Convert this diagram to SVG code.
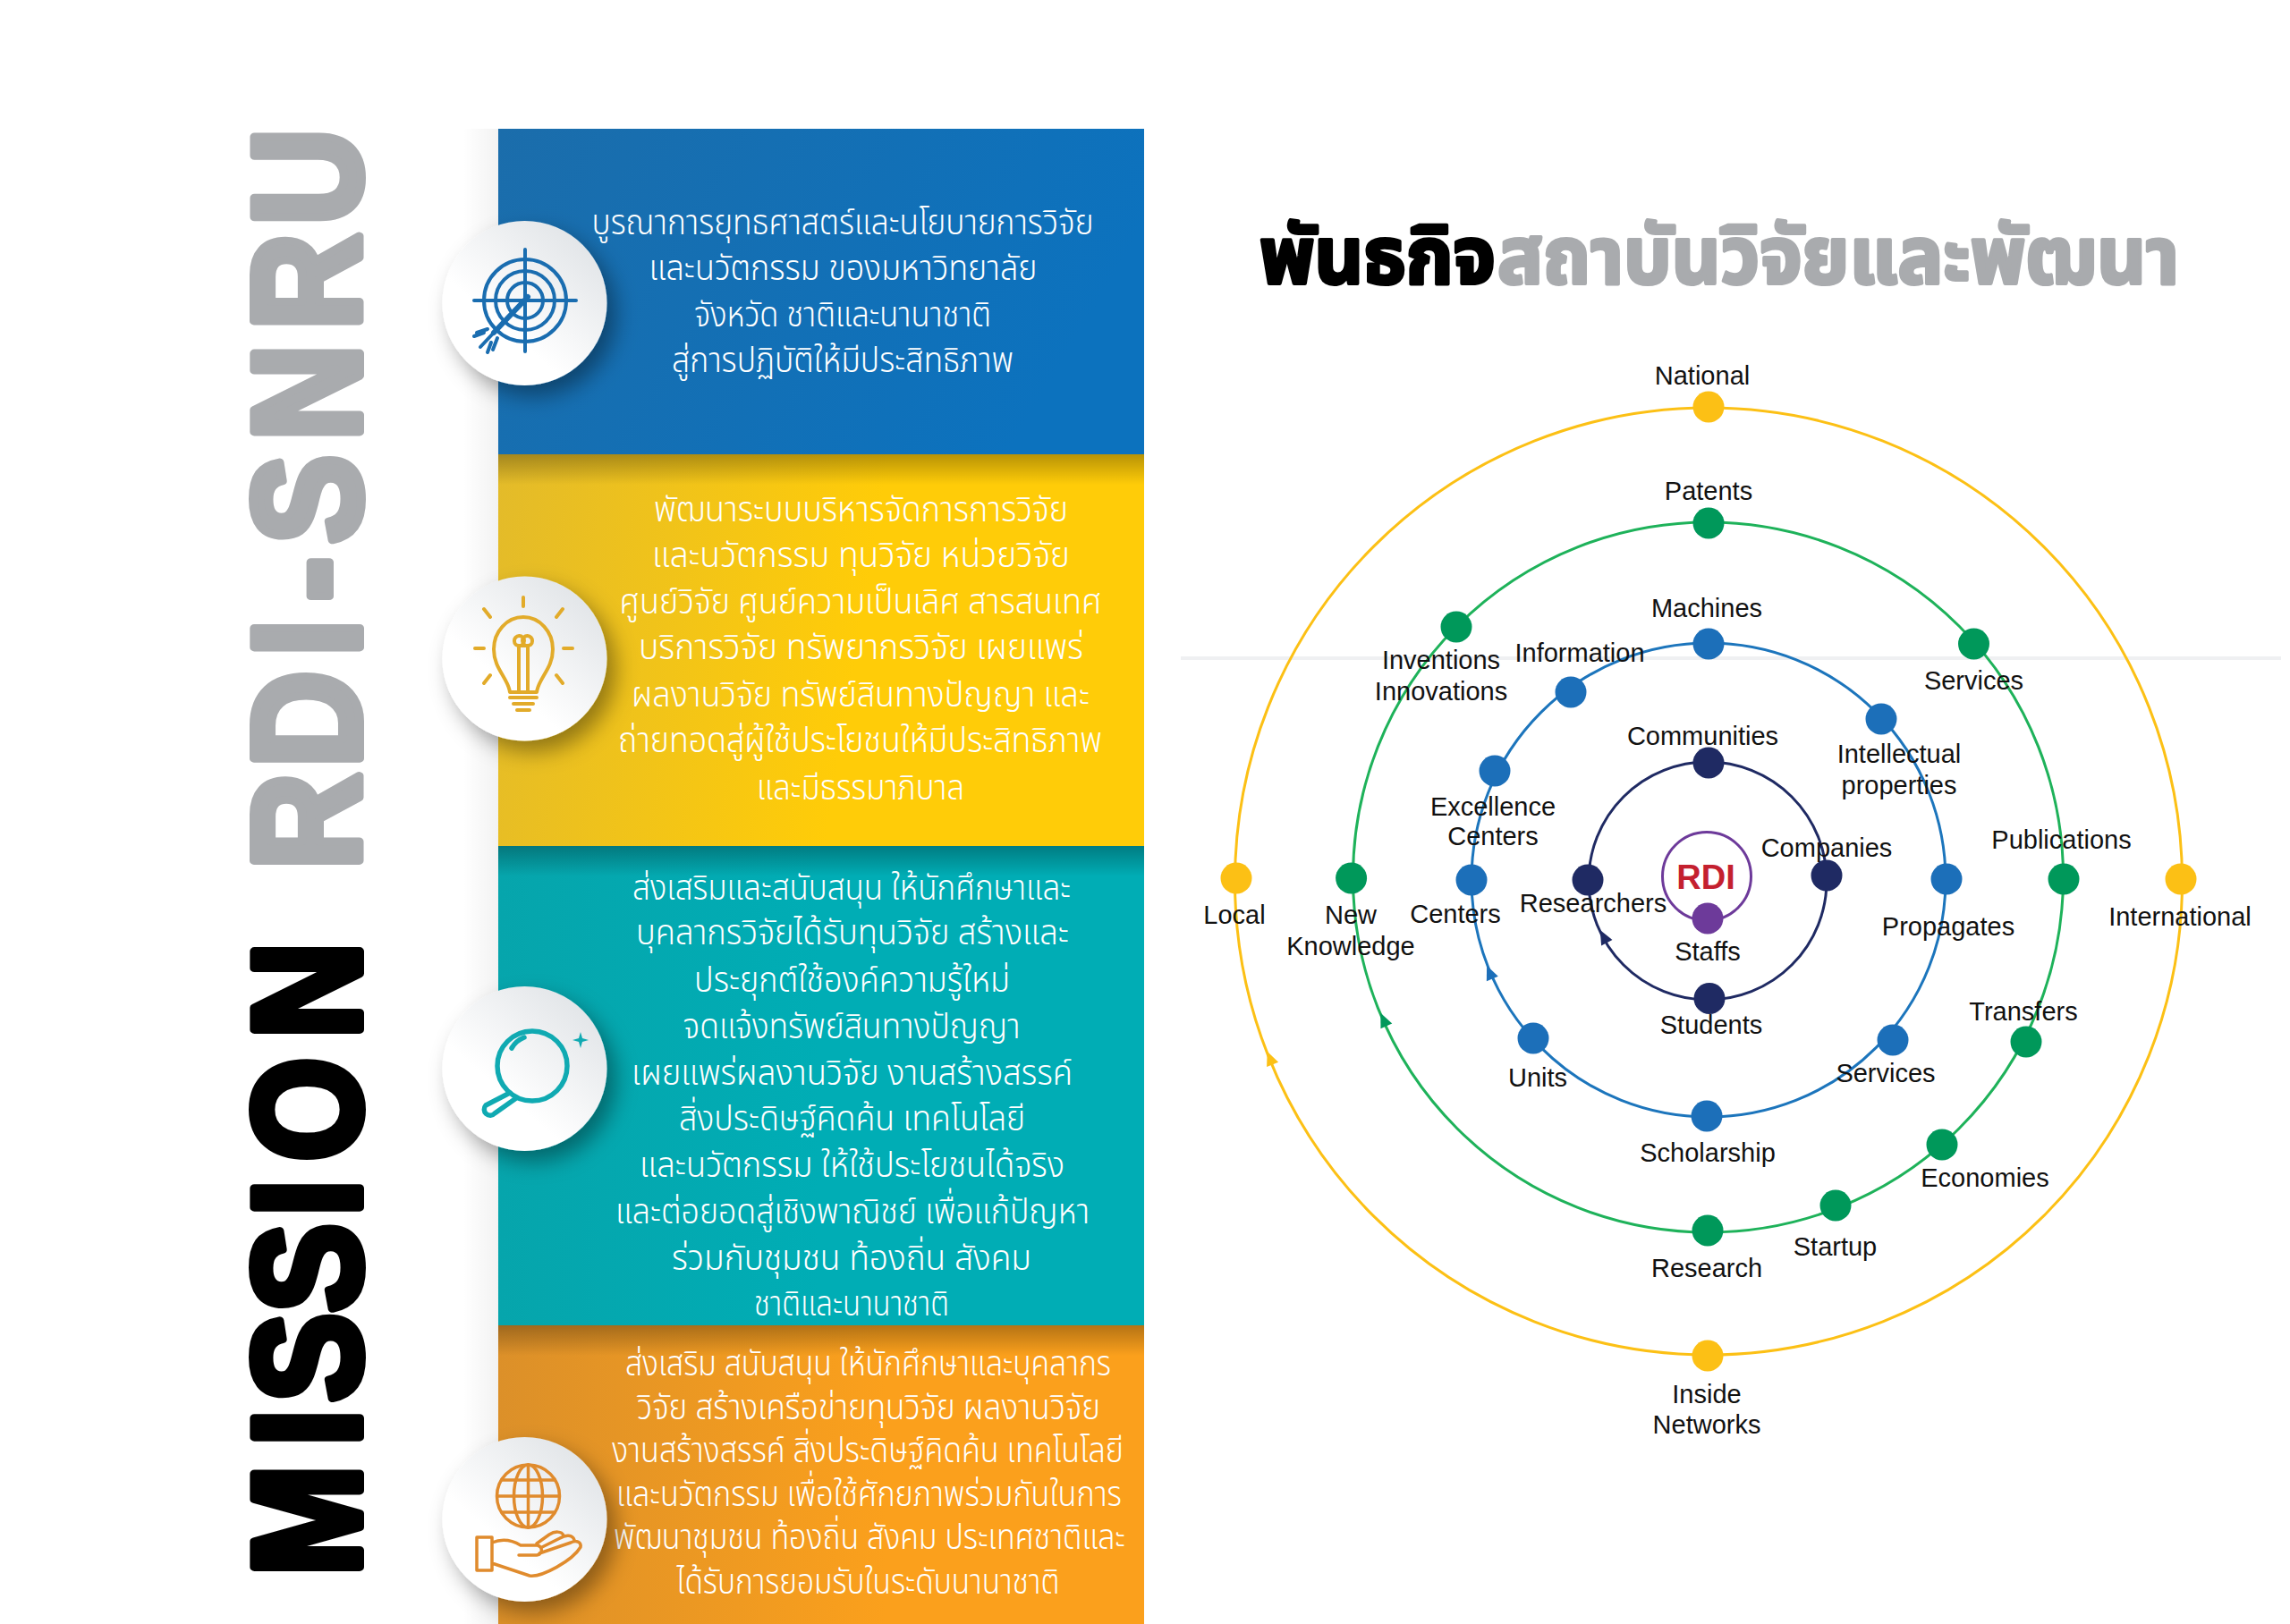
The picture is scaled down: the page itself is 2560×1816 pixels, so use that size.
<svg xmlns="http://www.w3.org/2000/svg" xmlns:xlink="http://www.w3.org/1999/xlink" width="2560" height="1816" viewBox="0 0 2560 1816">
<defs>
<linearGradient id="gb" x1="0" y1="0" x2="1" y2="0.3"><stop offset="0" stop-color="#1b6dab"/><stop offset="1" stop-color="#0c72be"/></linearGradient>
<linearGradient id="gy" x1="0" y1="0" x2="1" y2="0.1"><stop offset="0" stop-color="#e3bb2a"/><stop offset="0.6" stop-color="#ffcc08"/></linearGradient>
<linearGradient id="gt" x1="0" y1="0" x2="1" y2="0"><stop offset="0" stop-color="#06a5ac"/><stop offset="0.5" stop-color="#00adb5"/></linearGradient>
<linearGradient id="go" x1="0" y1="0" x2="1" y2="0"><stop offset="0" stop-color="#dc9029"/><stop offset="0.6" stop-color="#fba01c"/></linearGradient>
<linearGradient id="sh" x1="0" y1="0" x2="0" y2="1"><stop offset="0" stop-color="#000" stop-opacity="0.28"/><stop offset="1" stop-color="#000" stop-opacity="0"/></linearGradient>
<linearGradient id="sl" x1="0" y1="0" x2="1" y2="0"><stop offset="0" stop-color="#000" stop-opacity="0"/><stop offset="1" stop-color="#000" stop-opacity="0.05"/></linearGradient>
<linearGradient id="gc" x1="0.15" y1="0.85" x2="0.8" y2="0.1"><stop offset="0.3" stop-color="#ffffff"/><stop offset="1" stop-color="#e3e6e9"/></linearGradient>
<filter id="ds" x="-30%" y="-30%" width="170%" height="170%"><feDropShadow dx="10" dy="12" stdDeviation="12" flood-color="#000" flood-opacity="0.38"/></filter>
<polygon id="ah" points="0,-9 7,7 -7,7"/>
</defs>
<style>
.th{font-family:"Noto Sans","Noto Sans Thai",Loma,"Noto Sans CJK SC",sans-serif;font-size:40px;fill:#fff;font-weight:300}
.tt{font-family:"Noto Sans","Noto Sans Thai",Loma,sans-serif;font-size:88px;font-weight:700;stroke-linejoin:round;stroke-width:4px}
.big{font-family:"Liberation Sans",Arial,sans-serif;font-weight:700;font-size:170px;stroke-linejoin:round;stroke-linecap:round;stroke-width:10px}
.lb{font-family:"Liberation Sans",Arial,sans-serif;font-size:29px;fill:#111;text-anchor:middle}
.ring{fill:none;stroke-width:3}
.d{stroke:none}
.ic{fill:none;stroke-width:4;stroke-linecap:round;stroke-linejoin:round}
</style>
<rect width="2560" height="1816" fill="#fff"/>
<rect x="1320" y="734" width="1230" height="4" fill="#eff0f2"/>

<g id="mission-title">
<text class="big" transform="translate(402 1773) rotate(-90) scale(0.88 1)" x="12 177 233 347 469 539 695" y="0" fill="#000" stroke="#000">MISSION</text>
<text class="big" transform="translate(402 962) rotate(-90) scale(0.88 1)" x="-12 118 259 329 402 533 674 807" y="0" fill="#a9abae" stroke="#a9abae">RDI-SNRU</text>
</g>

<rect x="517" y="144" width="40" height="1672" fill="url(#sl)"/>

<g id="panel-1">
<rect x="557" y="144" width="722" height="364" fill="url(#gb)"/>
<text class="th" x="661.5" y="262" textLength="561" lengthAdjust="spacingAndGlyphs">บูรณาการยุทธศาสตร์และนโยบายการวิจัย</text>
<text class="th" x="725.5" y="313" textLength="434" lengthAdjust="spacingAndGlyphs">และนวัตกรรม ของมหาวิทยาลัย</text>
<text class="th" x="776" y="365" textLength="332" lengthAdjust="spacingAndGlyphs">จังหวัด ชาติและนานาชาติ</text>
<text class="th" x="751" y="416" textLength="382" lengthAdjust="spacingAndGlyphs">สู่การปฏิบัติให้มีประสิทธิภาพ</text>
</g>
<g id="panel-2">
<rect x="557" y="508" width="722" height="438" fill="url(#gy)"/>
<rect x="557" y="508" width="722" height="34" fill="url(#sh)"/>
<text class="th" x="731" y="583" textLength="463" lengthAdjust="spacingAndGlyphs">พัฒนาระบบบริหารจัดการการวิจัย</text>
<text class="th" x="729" y="634" textLength="467" lengthAdjust="spacingAndGlyphs">และนวัตกรรม ทุนวิจัย หน่วยวิจัย</text>
<text class="th" x="692.5" y="686" textLength="539" lengthAdjust="spacingAndGlyphs">ศูนย์วิจัย ศูนย์ความเป็นเลิศ สารสนเทศ</text>
<text class="th" x="714" y="737" textLength="497" lengthAdjust="spacingAndGlyphs">บริการวิจัย ทรัพยากรวิจัย เผยแพร่</text>
<text class="th" x="706" y="790" textLength="512" lengthAdjust="spacingAndGlyphs">ผลงานวิจัย ทรัพย์สินทางปัญญา และ</text>
<text class="th" x="691" y="841" textLength="541" lengthAdjust="spacingAndGlyphs">ถ่ายทอดสู่ผู้ใช้ประโยชนให้มีประสิทธิภาพ</text>
<text class="th" x="846" y="894" textLength="232" lengthAdjust="spacingAndGlyphs">และมีธรรมาภิบาล</text>
</g>
<g id="panel-3">
<rect x="557" y="946" width="722" height="536" fill="url(#gt)"/>
<rect x="557" y="946" width="722" height="34" fill="url(#sh)"/>
<text class="th" x="707" y="1006" textLength="490" lengthAdjust="spacingAndGlyphs">ส่งเสริมและสนับสนุน ให้นักศึกษาและ</text>
<text class="th" x="711" y="1056" textLength="484" lengthAdjust="spacingAndGlyphs">บุคลากรวิจัยได้รับทุนวิจัย สร้างและ</text>
<text class="th" x="776" y="1109" textLength="353" lengthAdjust="spacingAndGlyphs">ประยุกต์ใช้องค์ความรู้ใหม่</text>
<text class="th" x="763.5" y="1161" textLength="377" lengthAdjust="spacingAndGlyphs">จดแจ้งทรัพย์สินทางปัญญา</text>
<text class="th" x="706" y="1213" textLength="493" lengthAdjust="spacingAndGlyphs">เผยแพร่ผลงานวิจัย งานสร้างสรรค์</text>
<text class="th" x="759" y="1264" textLength="387" lengthAdjust="spacingAndGlyphs">สิ่งประดิษฐ์คิดค้น เทคโนโลยี</text>
<text class="th" x="715" y="1316" textLength="475" lengthAdjust="spacingAndGlyphs">และนวัตกรรม ให้ใช้ประโยชนได้จริง</text>
<text class="th" x="688" y="1368" textLength="530" lengthAdjust="spacingAndGlyphs">และต่อยอดสู่เชิงพาณิชย์ เพื่อแก้ปัญหา</text>
<text class="th" x="751" y="1420" textLength="402" lengthAdjust="spacingAndGlyphs">ร่วมกับชุมชน ท้องถิ่น สังคม</text>
<text class="th" x="843" y="1471" textLength="218" lengthAdjust="spacingAndGlyphs">ชาติและนานาชาติ</text>
</g>
<g id="panel-4">
<rect x="557" y="1482" width="722" height="334" fill="url(#go)"/>
<rect x="557" y="1482" width="722" height="34" fill="url(#sh)"/>
<text class="th" x="699" y="1538" textLength="543" lengthAdjust="spacingAndGlyphs">ส่งเสริม สนับสนุน ให้นักศึกษาและบุคลากร</text>
<text class="th" x="712" y="1587" textLength="518" lengthAdjust="spacingAndGlyphs">วิจัย สร้างเครือข่ายทุนวิจัย ผลงานวิจัย</text>
<text class="th" x="684" y="1635" textLength="572" lengthAdjust="spacingAndGlyphs">งานสร้างสรรค์ สิ่งประดิษฐ์คิดค้น เทคโนโลยี</text>
<text class="th" x="689" y="1684" textLength="565" lengthAdjust="spacingAndGlyphs">และนวัตกรรม เพื่อใช้ศักยภาพร่วมกันในการ</text>
<text class="th" x="686" y="1732" textLength="572" lengthAdjust="spacingAndGlyphs">พัฒนาชุมชน ท้องถิ่น สังคม ประเทศชาติและ</text>
<text class="th" x="756.5" y="1782" textLength="428" lengthAdjust="spacingAndGlyphs">ได้รับการยอมรับในระดับนานาชาติ</text>
</g>

<g id="icon-target">
<circle cx="586.5" cy="339" r="92" fill="url(#gc)" filter="url(#ds)"/>
<g class="ic" stroke="#1a6db0">
<circle cx="587" cy="336" r="46"/><circle cx="587" cy="336" r="33"/><circle cx="587" cy="336" r="20"/>
<path d="M530 336H644M587 279V393"/>
<path d="M590 332L552 372" style="stroke-width:6"/>
<path d="M552 372L537 388M545 368L533 372M556 378L551 391M541 372L530 376M549 383L545 394"/>
</g>
</g>
<g id="icon-bulb">
<circle cx="586.5" cy="736.5" r="92" fill="url(#gc)" filter="url(#ds)"/>
<g class="ic" stroke="#e2ab2a">
<path d="M570 774C568 758 552 748 552 726a33 36 0 0 1 66 0C618 748 602 758 600 774Z"/>
<path d="M580 774V722M590 774V722M580 722a5.500 5.500 0 1 0 -5 -5c0 4 3 5 5 5h10c2 0 5 -1 5 -5a5.500 5.500 0 1 0 -5 5"/>
<path d="M570 780H600M574 787H596M578 794H592"/>
<path d="M585 668V678M548 690l-7 -9M622 690l7 -9M531 725H541M630 725H640M548 755l-7 9M622 755l7 9"/>
</g>
</g>
<g id="icon-magnifier">
<circle cx="586.5" cy="1195" r="92" fill="url(#gc)" filter="url(#ds)"/>
<g class="ic" stroke="#10aab2" style="stroke-width:5.500">
<circle cx="595" cy="1192" r="39"/>
<path d="M572 1172a28 28 0 0 1 14 -12"/>
<path d="M570 1222L543 1236a6.500 6.500 0 0 0 10 9L577 1228"/>
</g>
<path d="M649 1154l2 7 7 2 -7 2 -2 7 -2 -7 -7 -2 7 -2Z" fill="#10aab2"/>
</g>
<g id="icon-globe">
<circle cx="586.5" cy="1699" r="92" fill="url(#gc)" filter="url(#ds)"/>
<g class="ic" stroke="#e08b2d" style="stroke-width:3.500">
<circle cx="590.5" cy="1673" r="35"/>
<ellipse cx="590.5" cy="1673" rx="16" ry="35"/>
<path d="M590.5 1638V1708M556 1673H625M561 1655H620M561 1691H620"/>
<path d="M533 1719H550V1756H533ZM550 1725C562 1720 572 1722 582 1728H601C607 1730 607 1738 600 1739H580M550 1748L592 1762C606 1764 640 1745 649 1730C650 1724 644 1722 638 1725L603 1737M642 1722C640 1716 632 1716 626 1720L606 1730M630 1717C628 1712 620 1712 614 1716L600 1726"/>
</g>
</g>

<g id="heading">
<text class="tt" x="1408" y="317" textLength="264" lengthAdjust="spacingAndGlyphs" fill="#000" stroke="#000">พันธกิจ</text>
<text class="tt" x="1674" y="317" textLength="762" lengthAdjust="spacingAndGlyphs" fill="#a9abae" stroke="#a9abae">สถาบันวิจัยและพัฒนา</text>
</g>

<g id="connectors">
<circle class="ring" cx="1910" cy="985.5" r="529.5" stroke="#fcc015"/>
<circle class="ring" cx="1909.5" cy="981" r="397" stroke="#1eb25a"/>
<circle class="ring" cx="1910" cy="984" r="265" stroke="#1c75bc"/>
<circle class="ring" cx="1909" cy="985" r="133" stroke="#1f2a63"/>
<circle class="ring" cx="1908" cy="980" r="49.5" stroke="#6d3a9a"/>
<use href="#ah" fill="#fcc015" transform="translate(1420 1184) rotate(-22)"/>
<use href="#ah" fill="#00985a" transform="translate(1547 1141) rotate(-24)"/>
<use href="#ah" fill="#1c6fb9" transform="translate(1665.6 1088) rotate(-23)"/>
<use href="#ah" fill="#1f2a63" transform="translate(1793 1048) rotate(-28)"/>
</g>

<g id="nodes">
<g id="n-national"><circle class="d" cx="1910" cy="455" r="17.5" fill="#fcc015"/><text class="lb" x="1903" y="430">National</text></g>
<g id="n-inside"><circle class="d" cx="1909" cy="1516" r="17.5" fill="#fcc015"/><text class="lb" x="1908" y="1569">Inside</text><text class="lb" x="1908" y="1603">Networks</text></g>
<g id="n-local"><circle class="d" cx="1382" cy="982" r="17.5" fill="#fcc015"/><text class="lb" x="1380" y="1033">Local</text></g>
<g id="n-international"><circle class="d" cx="2438" cy="983" r="17.5" fill="#fcc015"/><text class="lb" x="2437" y="1035">International</text></g>
<g id="n-patents"><circle class="d" cx="1910" cy="585" r="17.5" fill="#00985a"/><text class="lb" x="1910" y="558.5">Patents</text></g>
<g id="n-inventions"><circle class="d" cx="1628" cy="701" r="17.5" fill="#00985a"/><text class="lb" x="1611" y="748">Inventions</text><text class="lb" x="1611" y="783">Innovations</text></g>
<g id="n-services-g"><circle class="d" cx="2206.5" cy="720" r="17.5" fill="#00985a"/><text class="lb" x="2206.5" y="771">Services</text></g>
<g id="n-knowledge"><circle class="d" cx="1510.6" cy="982" r="17.5" fill="#00985a"/><text class="lb" x="1510" y="1033">New</text><text class="lb" x="1510" y="1067.5">Knowledge</text></g>
<g id="n-publications"><circle class="d" cx="2307" cy="983" r="17.5" fill="#00985a"/><text class="lb" x="2304.5" y="949">Publications</text></g>
<g id="n-transfers"><circle class="d" cx="2265" cy="1165" r="17.5" fill="#00985a"/><text class="lb" x="2262" y="1141">Transfers</text></g>
<g id="n-economies"><circle class="d" cx="2171" cy="1280" r="17.5" fill="#00985a"/><text class="lb" x="2219" y="1327">Economies</text></g>
<g id="n-startup"><circle class="d" cx="2052" cy="1348" r="17.5" fill="#00985a"/><text class="lb" x="2051.5" y="1404">Startup</text></g>
<g id="n-research"><circle class="d" cx="1909" cy="1376" r="17.5" fill="#00985a"/><text class="lb" x="1908" y="1428">Research</text></g>
<g id="n-machines"><circle class="d" cx="1910" cy="720" r="17.5" fill="#1c6fb9"/><text class="lb" x="1908" y="690">Machines</text></g>
<g id="n-information"><circle class="d" cx="1756" cy="774" r="17.5" fill="#1c6fb9"/><text class="lb" x="1766" y="740">Information</text></g>
<g id="n-intellectual"><circle class="d" cx="2103" cy="804" r="17.5" fill="#1c6fb9"/><text class="lb" x="2123" y="853">Intellectual</text><text class="lb" x="2123" y="887.5">properties</text></g>
<g id="n-excellence"><circle class="d" cx="1671" cy="862" r="17.5" fill="#1c6fb9"/><text class="lb" x="1669" y="911.5">Excellence</text><text class="lb" x="1669" y="945">Centers</text></g>
<g id="n-centers"><circle class="d" cx="1645" cy="984" r="17.5" fill="#1c6fb9"/><text class="lb" x="1627" y="1032">Centers</text></g>
<g id="n-propagates"><circle class="d" cx="2176" cy="983" r="17.5" fill="#1c6fb9"/><text class="lb" x="2178" y="1046">Propagates</text></g>
<g id="n-units"><circle class="d" cx="1714" cy="1161" r="17.5" fill="#1c6fb9"/><text class="lb" x="1719" y="1214.5">Units</text></g>
<g id="n-services-b"><circle class="d" cx="2116" cy="1163" r="17.5" fill="#1c6fb9"/><text class="lb" x="2108" y="1210">Services</text></g>
<g id="n-scholarship"><circle class="d" cx="1908" cy="1248" r="17.5" fill="#1c6fb9"/><text class="lb" x="1909" y="1299">Scholarship</text></g>
<g id="n-communities"><circle class="d" cx="1910" cy="853" r="17.5" fill="#1f2a63"/><text class="lb" x="1903.5" y="832.5">Communities</text></g>
<g id="n-researchers"><circle class="d" cx="1775" cy="984" r="17.5" fill="#1f2a63"/><text class="lb" x="1781" y="1020">Researchers</text></g>
<g id="n-companies"><circle class="d" cx="2042" cy="979" r="17.5" fill="#1f2a63"/><text class="lb" x="2042" y="957.5">Companies</text></g>
<g id="n-students"><circle class="d" cx="1911" cy="1116.5" r="17.5" fill="#1f2a63"/><text class="lb" x="1913" y="1156">Students</text></g>
<g id="n-staffs"><circle class="d" cx="1909" cy="1027" r="17.5" fill="#6d3a9a"/><text class="lb" x="1909" y="1074">Staffs</text></g>
<g id="n-rdi"><text x="1907" y="994" text-anchor="middle" font-family="Liberation Sans,Arial,sans-serif" font-weight="700" font-size="38" fill="#c4202f">RDI</text></g>
</g>
</svg>
